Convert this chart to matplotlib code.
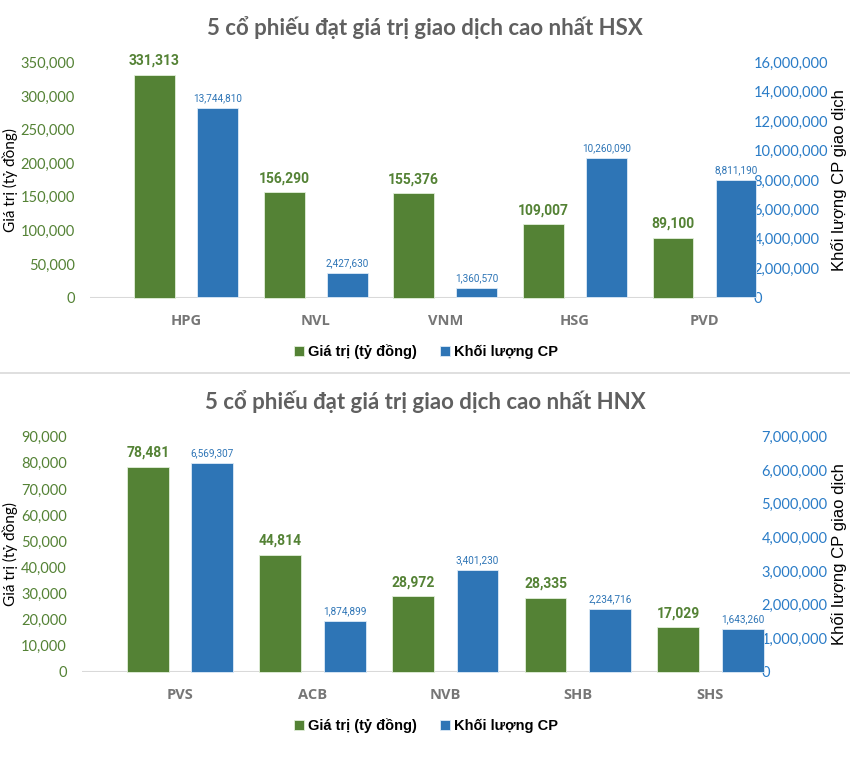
"""Top-5 traded stocks on HSX and HNX: value vs. volume, dual axis bars."""

import matplotlib.pyplot as plt
import numpy as np
from matplotlib.ticker import FuncFormatter

W, H = 850, 773

GREEN = "#548235"
BLUE = "#2E75B6"
TICK_BLUE = "#2A7CC7"
GREY = "#767676"

# HSX
hsx_codes = ["HPG", "NVL", "VNM", "HSG", "PVD"]
hsx_value = [331313, 156290, 155376, 109007, 89100]
hsx_volume = [12880000, 1650000, 630000, 9480000, 8000000]      # bar heights as drawn
hsx_volume_label = [13744810, 2427630, 1360570, 10260090, 8811190]

# HNX
hnx_codes = ["PVS", "ACB", "NVB", "SHB", "SHS"]
hnx_value = [78481, 44814, 28972, 28335, 17029]
hnx_volume = [6210000, 1520000, 3030000, 1860000, 1260000]
hnx_volume_label = [6569307, 1874899, 3401230, 2234716, 1643260]

plt.rcParams["font.family"] = ["Lato", "DejaVu Sans"]

fmt = FuncFormatter(lambda v, _: f"{v:,.0f}")


def px_box(left, right, top, bottom):
    return [left / W, 1 - bottom / H, (right - left) / W, (bottom - top) / H]


def panel(fig, box, xlim, base_end, codes, value, volume, volume_label,
          vmax, vstep, qmax, qstep, title, title_y, legend_y):
    ax = fig.add_axes(box)
    ax2 = ax.twinx()
    x = np.arange(len(codes))
    w = 0.315
    g = ax.bar(x - 0.243, value, w, color=GREEN, edgecolor="#E2EFDA", linewidth=0.6,
               label="Giá trị (tỷ đồng)", clip_on=False, zorder=3)
    b = ax2.bar(x + 0.243, volume, w, color=BLUE, edgecolor="#DDEBF7", linewidth=0.6,
                label="Khối lượng CP", clip_on=False, zorder=3)

    for xi, v in zip(x, value):
        ax.annotate(f"{v:,}", (xi - 0.243, v), xytext=(0, 5), textcoords="offset points",
                    ha="center", va="bottom", color=GREEN, fontsize=10,
                    fontweight="bold", family="Roboto", annotation_clip=False)
    for xi, v, lab in zip(x, volume, volume_label):
        ax2.annotate(f"{lab:,}", (xi + 0.243, v), xytext=(0, 3.5), textcoords="offset points",
                     ha="center", va="bottom", color=BLUE, fontsize=7.2,
                     family="Roboto", annotation_clip=False)

    ax.set_xlim(*xlim)
    ax.set_ylim(0, vmax)
    ax2.set_ylim(0, qmax)
    ax.set_yticks(np.arange(0, vmax + 1, vstep))
    ax2.set_yticks(np.arange(0, qmax + 1, qstep))
    ax.yaxis.set_major_formatter(fmt)
    ax2.yaxis.set_major_formatter(fmt)

    for a in (ax, ax2):
        for s in a.spines.values():
            s.set_visible(False)
        a.tick_params(length=0)
    frac = (base_end - xlim[0]) / (xlim[1] - xlim[0])
    ax.axhline(0, xmin=0, xmax=frac, color="#D9D9D9", linewidth=1.5, zorder=2)

    ax.tick_params(axis="y", colors=GREEN, labelsize=10.5, pad=11)
    ax2.tick_params(axis="y", colors=TICK_BLUE, labelsize=10.5, pad=1)
    ax.set_xticks(x)
    ax.set_xticklabels(codes, fontweight="bold", color=GREY, fontsize=10.5,
                       family="Open Sans")
    ax.tick_params(axis="x", pad=12)

    mid = box[1] + box[3] / 2
    fig.text(10 / W, mid, "Giá trị (tỷ đồng)", rotation=90, ha="center", va="center",
             fontsize=11, color="black")
    fig.text(839 / W, mid, "Khối lượng CP giao dịch", rotation=90, ha="center",
             va="center", fontsize=12, color="black", family="Liberation Sans")

    fig.text(0.5, 1 - title_y / H, title, ha="center", va="center", fontsize=16,
             fontweight="bold", color="#606060")
    fig.legend(handles=[g, b], loc="center", bbox_to_anchor=(426 / W, 1 - legend_y / H),
               ncol=2, frameon=False, handlelength=0.65, handleheight=0.65,
               handletextpad=0.3, columnspacing=1.6,
               prop={"family": "Liberation Sans", "weight": "bold", "size": 10.5})


def main() -> None:
    fig = plt.figure(figsize=(W / 100, H / 100), dpi=100)

    panel(fig, px_box(90, 752, 62.3, 297.5), (-0.741, 4.367), 4.259,
          hsx_codes, hsx_value, hsx_volume, hsx_volume_label,
          350000, 50000, 16000000, 2000000,
          "5 cổ phiếu đạt giá trị giao dịch cao nhất HSX", 28, 352)

    panel(fig, px_box(82, 760, 436.7, 671.7), (-0.739, 4.374), 4.261,
          hnx_codes, hnx_value, hnx_volume, hnx_volume_label,
          90000, 10000, 7000000, 1000000,
          "5 cổ phiếu đạt giá trị giao dịch cao nhất HNX", 402, 726)

    fig.add_artist(plt.Line2D([0, 1], [1 - 372.5 / H] * 2, color="#D9D9D9", linewidth=1.2))

    fig.savefig("out.png", dpi=100)


if __name__ == "__main__":
    main()
